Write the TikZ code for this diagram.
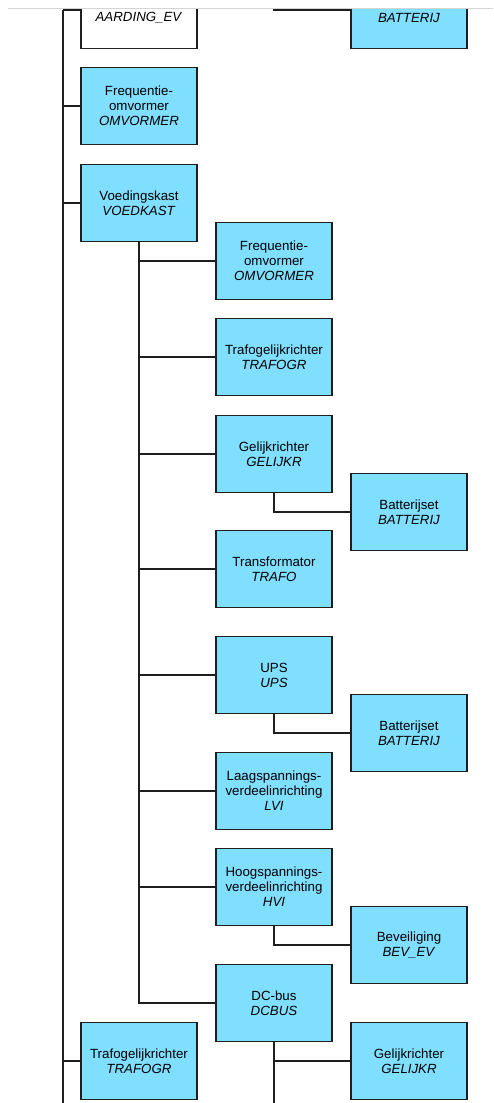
\documentclass[tikz,border=0pt]{standalone}
\usepackage{fontspec}
\setmainfont{Liberation Sans}
\usepackage{xcolor}
\usepackage{tikz}
\usetikzlibrary{positioning,calc}
\definecolor{treeCyan}{HTML}{80DFFF}
\definecolor{treeInk}{HTML}{1E1E1E}
\definecolor{treeRule}{HTML}{D4D4D4}
\tikzset{
  unit/.style={
    rectangle,
    draw=treeInk,
    fill=treeCyan,
    line width=1.1pt,
    minimum width=116pt,
    minimum height=77pt,
    inner sep=0pt,
    align=center,
    font=\fontsize{13.3}{15}\selectfont
  },
  unitBlank/.style={
    unit,
    fill=white
  },
  link/.style={
    line width=1.1pt,
    draw=treeInk
  }
}

\begin{document}
\begin{tikzpicture}[x=1pt,y=-1pt]
  \useasboundingbox (0,0) rectangle (493,1103);
  \draw[treeRule,line width=1.5pt] (8,8.5) -- (493,8.5);
  \begin{scope}
    \clip (0,9.3) rectangle (493,1103);
    \node[unitBlank] (aard) at (139,10) {\strut\\\textit{AARDING\_EV}};
    \node[unit] (omv1) at (139,106) {Frequentie-\\omvormer\\\textit{OMVORMER}};
    \node[unit] (voed) at (139,203) {Voedingskast\\\textit{VOEDKAST}};
    \node[unit] (trafogr1) at (139,1061) {Trafogelijkrichter\\\textit{TRAFOGR}};
    \node[unit] (omv2) at (274,261) {Frequentie-\\omvormer\\\textit{OMVORMER}};
    \node[unit] (trafogr2) at (274,357) {Trafogelijkrichter\\\textit{TRAFOGR}};
    \node[unit] (gelijkr2) at (274,454) {Gelijkrichter\\\textit{GELIJKR}};
    \node[unit] (trafo) at (274,569) {Transformator\\\textit{TRAFO}};
    \node[unit] (ups) at (274,675) {UPS\\\textit{UPS}};
    \node[unit] (lvi) at (274,791) {Laagspannings-\\verdeelinrichting\\\textit{LVI}};
    \node[unit] (hvi) at (274,887) {Hoogspannings-\\verdeelinrichting\\\textit{HVI}};
    \node[unit] (dcbus) at (274,1003) {DC-bus\\\textit{DCBUS}};
    \node[unit] (batt0) at (409,10) {\strut\\\textit{BATTERIJ}};
    \node[unit] (batt1) at (409,512) {Batterijset\\\textit{BATTERIJ}};
    \node[unit] (batt2) at (409,733) {Batterijset\\\textit{BATTERIJ}};
    \node[unit] (bev) at (409,945) {Beveiliging\\\textit{BEV\_EV}};
    \node[unit] (gelijkr3) at (409,1061) {Gelijkrichter\\\textit{GELIJKR}};
    \coordinate (spine) at (63,10);
    \coordinate (spineEnd) at (63,1110);
    \coordinate (upper) at (274,-20);
    \coordinate (busEnd) at (274,1110);
    \draw[link] (spine) -- (spineEnd);
    \draw[link] (spine) -- (aard.west);
    \draw[link] (spine |- omv1.west) -- (omv1.west);
    \draw[link] (spine |- voed.west) -- (voed.west);
    \draw[link] (spine |- trafogr1.west) -- (trafogr1.west);
    \draw[link] (voed.south) |- (dcbus.west);
    \draw[link] (voed.south |- omv2.west) -- (omv2.west);
    \draw[link] (voed.south |- trafogr2.west) -- (trafogr2.west);
    \draw[link] (voed.south |- gelijkr2.west) -- (gelijkr2.west);
    \draw[link] (voed.south |- trafo.west) -- (trafo.west);
    \draw[link] (voed.south |- ups.west) -- (ups.west);
    \draw[link] (voed.south |- lvi.west) -- (lvi.west);
    \draw[link] (voed.south |- hvi.west) -- (hvi.west);
    \draw[link] (upper) |- (batt0.west);
    \draw[link] (gelijkr2.south) |- (batt1.west);
    \draw[link] (ups.south) |- (batt2.west);
    \draw[link] (hvi.south) |- (bev.west);
    \draw[link] (dcbus.south) -- (busEnd);
    \draw[link] (dcbus.south |- gelijkr3.west) -- (gelijkr3.west);
  \end{scope}
\end{tikzpicture}
\end{document}
